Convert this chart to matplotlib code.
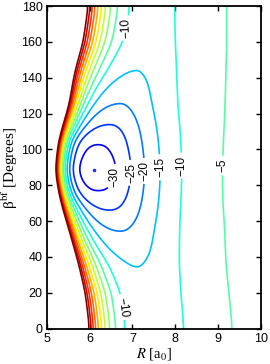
import numpy as np
import matplotlib
matplotlib.use("Agg")
import matplotlib.pyplot as plt
from matplotlib.colors import Normalize

# energy levels drawn as contours
levels = [-30, -25, -20, -15, -10, -5, 0, 5, 10, 15, 20, 25, 30, 35]

# shape of the surface, node by node in beta
beta_nodes = [0, 20, 36.6, 55.2, 66.4, 76, 88.5, 104, 113.6, 124.8, 142.8, 160, 180]
well_depth = [13.0, 13.8, 15.0, 20.0, 25.0, 30.0, 33.4, 30.0, 25.0, 20.0, 15.0, 12.8, 11.8]
well_R = [7.25, 7.25, 7.1, 6.7, 6.48, 6.17, 6.08, 6.17, 6.48, 6.7, 7.1, 7.28, 7.3]
wall_R = [6.0, 5.9, 5.74, 5.52, 5.38, 5.28, 5.2, 5.27, 5.38, 5.52, 5.65, 5.85, 5.97]
wall_kappa = [2.0, 2.5, 3.5, 4.0, 4.0, 4.0, 4.0, 4.0, 4.0, 4.0, 3.5, 2.5, 2.0]
far_R10 = [8.2, 8.13, 8.09, 8.1, 8.12, 8.14, 8.15, 8.13, 8.1, 8.06, 8.03, 8.0, 7.98]
far_R5 = [9.33, 9.25, 9.18, 9.15, 9.12, 9.1, 9.1, 9.12, 9.14, 9.16, 9.18, 9.2, 9.2]
wall_level = 35.0

# contour labels
label_vals = [-30, -25, -20, -15, -10, -5, -10, -10]
label_R = [6.55, 6.93, 7.30, 7.66, 8.17, 9.12, 6.98, 6.75]
label_beta = [85, 87, 88, 90, 91, 91, 167, 12]

# global minimum marker
min_R, min_beta = 6.11, 88.5

R = np.linspace(5, 10, 501)
beta = np.linspace(0, 180, 721)


def along_beta(vals, width=4.0):
    prof = np.interp(beta, beta_nodes, vals)
    step = beta[1] - beta[0]
    n = int(3 * width / step)
    k = np.arange(-n, n + 1) * step
    kern = np.exp(-0.5 * (k / width) ** 2)
    kern /= kern.sum()
    padded = np.pad(prof, n, mode="reflect")
    return np.convolve(padded, kern, mode="valid")[:, None]


De = along_beta(well_depth)
Re = along_beta(well_R)
Rw = along_beta(wall_R)
kap = along_beta(wall_kappa)
R10 = along_beta(far_R10)
R5 = along_beta(far_R5)
RR = R[None, :]

# inner branch: flat bottom rising into the repulsive wall
t = (Re - RR) / (Re - Rw)
g = (np.exp(kap * t) - 1 - kap * t) / (np.exp(kap) - 1 - kap)
V_in = -De + (wall_level + De) * g

# outer branch: long range tail through the -10 and -5 crossings
alpha = np.log((De / 5 - 1) / (De / 10 - 1)) / np.log((R5 - Re) / (R10 - Re))
lam = (R10 - Re) / (De / 10 - 1) ** (1 / alpha)
u = np.clip(RR - Re, 0, None)
V_out = -De / (1 + (u / lam) ** alpha)
V = np.where(RR < Re, V_in, V_out)

plt.rcParams["mathtext.fontset"] = "stix"
plt.rcParams["font.family"] = ["Liberation Sans", "DejaVu Sans"]

fig = plt.figure(figsize=(2.7, 3.64), dpi=100)
ax = fig.add_axes([0.173, 0.097, 0.794, 0.8865])

cs = ax.contour(R, beta, V, levels=levels, cmap="jet",
                norm=Normalize(-38, 35), linewidths=1.2)

fmt = lambda v: f"{v:g}".replace("-", "\u2212")
texts = ax.clabel(cs, manual=list(zip(label_R, label_beta)), inline=True,
                  inline_spacing=3, fontsize=8.5, fmt=fmt, colors="k")
rots = [90, 90, 90, 90, 90, 90, 92, -82]
for txt, rot in zip(texts, rots):
    txt.set_rotation(rot)

ax.plot(min_R, min_beta, ".", color="#1a2cff", ms=3)

ax.set_xlim(5, 10)
ax.set_ylim(0, 180)
ax.set_xticks(range(5, 11))
ax.set_yticks(range(0, 181, 20))
ax.tick_params(direction="in", top=True, right=True, length=3.5, width=1,
               labelsize=9, pad=3)
for sp in ax.spines.values():
    sp.set_linewidth(1.3)

ax.set_xlabel(r"$R$ [a$_0$]", family="Liberation Serif", fontsize=10.5, labelpad=1)
ax.set_ylabel(r"β$^{\rm bf}$ [Degrees]", family="Liberation Serif", fontsize=11,
              labelpad=1)

fig.savefig("out.png", dpi=100)
